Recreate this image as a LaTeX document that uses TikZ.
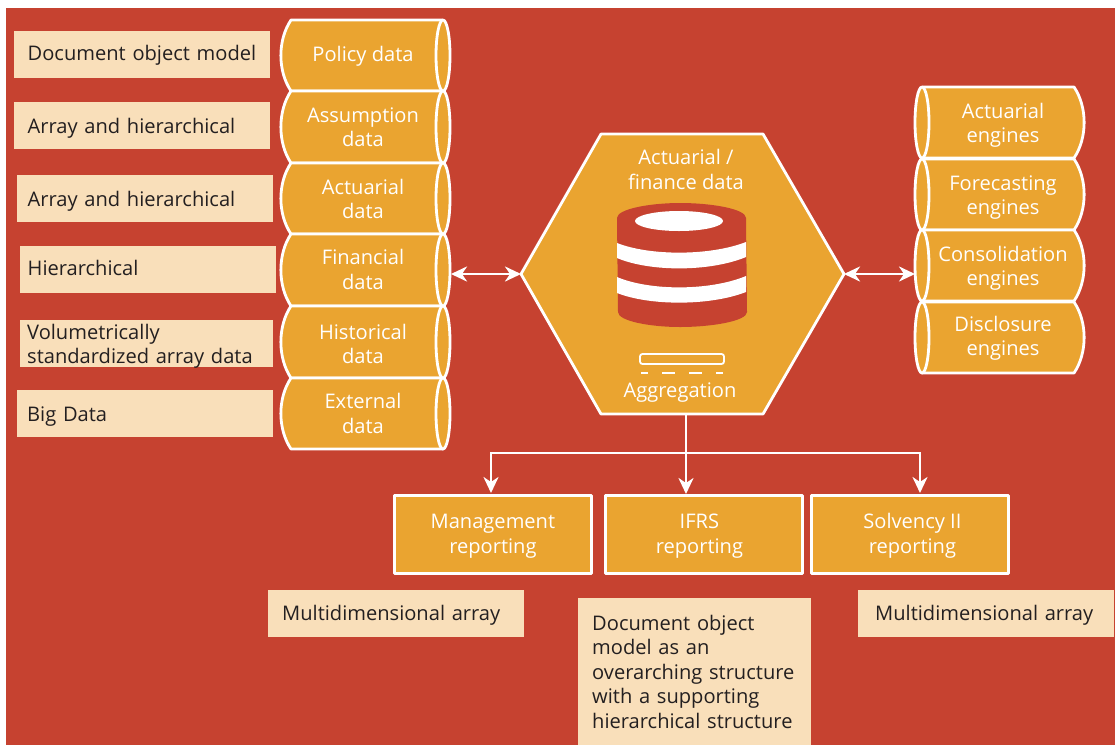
\documentclass[tikz,border=0pt]{standalone}
\usepackage{fontspec}
\setmainfont{Open Sans}
\usetikzlibrary{arrows.meta}
\definecolor{bgred}{HTML}{C64230}
\definecolor{orng}{HTML}{EAA430}
\definecolor{beige}{HTML}{F9DFBA}
\definecolor{ink}{HTML}{231F20}
\tikzset{
  x=1pt,y=-1pt,
  shp/.style={fill=orng,draw=white,line width=2.8pt,line join=round},
  whitetext/.style={text=white,font=\fontsize{20.1}{24.5}\selectfont,align=center,inner sep=0pt},
  label/.style={fill=beige,text=ink,font=\fontsize{20.1}{24.5}\selectfont,align=left,anchor=north west,inner xsep=13.5pt,inner ysep=0pt,minimum height=47pt},
  base/.style 2 args={text height=#1,text depth=#2},
  report/.style={shp,anchor=north west,minimum width=195pt,minimum height=76pt,inner sep=0pt,text=white,font=\fontsize{20.1}{24.5}\selectfont,align=center,text height=38pt,text depth=0pt},
  conn/.style={draw=white,line width=2.8pt},
  tip/.style={-{Stealth[length=16pt,width=15pt,inset=5pt]}},
  dtip/.style={{Stealth[length=16pt,width=15pt,inset=5pt]}-{Stealth[length=16pt,width=15pt,inset=5pt]}},
}
\newcommand{\cylL}[5]{%
  \draw[shp] (291,#2) -- (443,#2) -- (443,#3) -- (291,#3) .. controls (277.5,#3-20) and (277.5,#2+20) .. (291,#2) -- cycle;
  \draw[shp] (443,{(#2+#3)/2}) ellipse [x radius=7,y radius={(#3-#2)/2}];
  \node[whitetext] (#1) at (363,{(#2+#3)/2+#5}) {#4};
}
\newcommand{\cylR}[5]{%
  \draw[shp] (1074,#2) -- (922,#2) -- (922,#3) -- (1074,#3) .. controls (1087.5,#3-20) and (1087.5,#2+20) .. (1074,#2) -- cycle;
  \draw[shp] (922,{(#2+#3)/2}) ellipse [x radius=7,y radius={(#3-#2)/2}];
  \node[whitetext] (#1) at (1003,{(#2+#3)/2+#5}) {#4};
}
\begin{document}
\begin{tikzpicture}
\useasboundingbox (0,0) rectangle (1115,745);
\fill[white] (0,0) rectangle (1115,745);
\fill[bgred] (6,8) rectangle (1115,745);

% labels left
\node[label,text width=229pt,base={11pt}{0pt}] (l1) at (14,31) {Document object model};
\node[label,text width=229pt,base={15pt}{0pt}] (l2) at (14,102) {Array and hierarchical};
\node[label,inner xsep=10.5pt,text width=235pt,base={15pt}{0pt}] (l3) at (17,175) {Array and hierarchical};
\node[label,inner xsep=7.5pt,text width=241pt,base={11pt}{0pt}] (l4) at (20,246) {Hierarchical};
\node[label,inner xsep=7pt,text width=239pt,base={0pt}{9pt}] (l5) at (20,320) {Volumetrically\\standardized array data};
\node[label,inner xsep=10pt,text width=236pt,base={15pt}{0pt}] (l6) at (17,390) {Big Data};

% data cylinders
\cylL{c1}{20}{91}{Policy data}{1}
\cylL{c2}{91}{163}{Assumption\\data}{0}
\cylL{c3}{163}{234}{Actuarial\\data}{0.5}
\cylL{c4}{234}{306}{Financial\\data}{-0.5}
\cylL{c5}{306}{378}{Historical\\data}{2}
\cylL{c6}{378}{449}{External\\data}{0}

% engines
\cylR{e1}{87}{158}{Actuarial\\engines}{3}
\cylR{e2}{159}{230}{Forecasting\\engines}{3}
\cylR{e3}{230}{301}{Consolidation\\engines}{3}
\cylR{e4}{302}{373}{Disclosure\\engines}{1}

% hexagon
\coordinate (hexL) at (521,274);
\coordinate (hexR) at (844,274);
\coordinate (hexB) at (686,414);
\draw[shp] (hexL) -- (601,134) -- (763,134) -- (hexR) -- (763,414) -- (601,414) -- cycle;
\node[whitetext] (hextitle) at (686,169.5) {Actuarial /\\finance data};
\node[whitetext] (agg) at (680,393) {Aggregation};

% database icon
\fill[bgred] (617,218) .. controls (617,209) and (650,203) .. (680,203) .. controls (712,203) and (746,209) .. (746,218)
  -- (747,312) .. controls (747,321) and (712,327) .. (680,327) .. controls (650,327) and (618,321) .. (618,312) -- cycle;
\fill[white] (679,221) ellipse [x radius=44,y radius=10];
\fill[white] (617,243) .. controls (650,256) and (710,256) .. (746,242) -- (746,257) .. controls (710,272) and (650,272) .. (617,258) -- cycle;
\fill[white] (617,277) .. controls (650,291) and (710,291) .. (746,276) -- (746,292) .. controls (710,306) and (650,306) .. (617,293) -- cycle;

% aggregation icon
\draw[white,line width=1.8pt,rounded corners=2.5pt] (640,354) rectangle (724,364);
\draw[white,line width=2pt] (641,373) -- (648,373) (662,373) -- (675,373) (689,373) -- (702,373) (716,373) -- (723,373);

% reports
\node[report,minimum width=197pt,minimum height=78pt] (mgmt) at (393,494) {Management\\reporting};
\node[report,minimum width=197pt,minimum height=78pt] (ifrs) at (604,494) {\hspace*{-9pt}IFRS\\\hspace*{-9pt}reporting};
\node[report,minimum width=197pt,minimum height=78pt] (solv) at (810,494) {\hspace*{5pt}Solvency II\\\hspace*{5pt}reporting};

% bottom labels
\node[label,inner xsep=14pt,text width=228pt,base={14pt}{0pt}] (b1) at (268,590) {Multidimensional array};
\node[label,inner xsep=14pt,text width=205pt,minimum height=147pt] (b2) at (578,598) {Document object\\model as an\\overarching structure\\with a supporting\\hierarchical structure};
\node[label,inner xsep=17pt,text width=222pt,base={13pt}{0pt}] (b3) at (858,590) {Multidimensional array};

% connectors
\coordinate (c4e) at (451,274);
\coordinate (e3w) at (915,274);
\coordinate (branch) at (686,453);
\coordinate (mgmtTop) at (491,493);
\coordinate (solvTop) at (920,493);
\draw[conn,dtip] (c4e) -- (hexL);
\draw[conn,dtip] (hexR) -- (e3w);
\draw[conn,tip] (hexB) -- (hexB |- ifrs.north);
\draw[conn,tip] (branch) -| (mgmtTop);
\draw[conn,tip] (branch) -| (solvTop);
\end{tikzpicture}
\end{document}
